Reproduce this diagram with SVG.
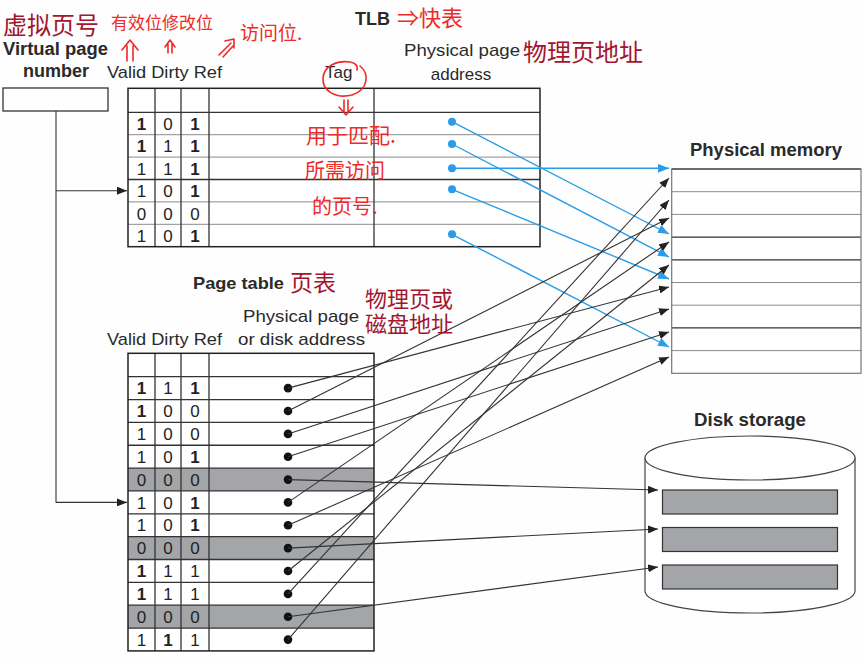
<svg xmlns="http://www.w3.org/2000/svg" width="863" height="664" viewBox="0 0 863 664">
<style>
.en{font-family:"Liberation Sans",Arial,sans-serif;fill:#2a2a2a}
.b{font-weight:bold}
.cn{font-family:"Noto Sans CJK SC","Noto Sans",sans-serif;fill:#a3152f}
.hw{font-family:"Noto Sans CJK SC","Noto Sans",sans-serif;fill:#ee2a2a}
.dg{font-family:"Liberation Sans",Arial,sans-serif;font-size:17px;fill:#222;text-anchor:middle}
.one{font-weight:bold}
.frame{fill:none;stroke:#222;stroke-width:1.5}
.ln{stroke:#333;stroke-width:1.3;fill:none}
.lt{stroke:#8a8a8a;stroke-width:1;fill:none}
.gray{fill:#a3a5a8}
.conn{stroke:#333;stroke-width:1.1;fill:none}
.blue{stroke:#2a9de8;stroke-width:1.4;fill:none}
.red{stroke:#ee2a2a;stroke-width:1.6;fill:none;stroke-linecap:round;stroke-linejoin:round}
</style>
<defs>
<marker id="ab" viewBox="0 0 10 8" refX="10" refY="4" markerWidth="10" markerHeight="8" markerUnits="userSpaceOnUse" orient="auto"><path d="M0,0 L10,4 L0,8 z" fill="#222"/></marker>
<marker id="abl" viewBox="0 0 10 8" refX="10" refY="4" markerWidth="11" markerHeight="9" markerUnits="userSpaceOnUse" orient="auto"><path d="M0,0 L10,4 L0,8 z" fill="#2a9de8"/></marker>
</defs>
<rect width="863" height="664" fill="#fdfefd"/>

<g id="vpn">
<rect x="3" y="88" width="105" height="23" fill="none" stroke="#333" stroke-width="1.3"/>
</g>

<g id="tlb">
<rect x="128" y="88.3" width="412" height="158.4" fill="#fff"/>
<path class="lt" d="M128,134.7 H540 M128,157.1 H540 M128,201.9 H540 M128,224.3 H540"/>
<path class="ln" d="M128,112.3 H540 M128,179.5 H540"/>
<path class="ln" d="M155,88.3 V246.7 M181,88.3 V246.7 M209,88.3 V246.7 M374,88.3 V246.7"/>
<rect class="frame" x="128" y="88.3" width="412" height="158.4"/>
<g>
<text class="dg one" x="141.5" y="130">1</text><text class="dg" x="168" y="130">0</text><text class="dg one" x="195" y="130">1</text>
<text class="dg one" x="141.5" y="152">1</text><text class="dg" x="168" y="152">1</text><text class="dg one" x="195" y="152">1</text>
<text class="dg" x="141.5" y="174.5">1</text><text class="dg" x="168" y="174.5">1</text><text class="dg one" x="195" y="174.5">1</text>
<text class="dg" x="141.5" y="197">1</text><text class="dg" x="168" y="197">0</text><text class="dg one" x="195" y="197">1</text>
<text class="dg" x="141.5" y="219.5" fill="#555">0</text><text class="dg" x="168" y="219.5" fill="#555">0</text><text class="dg" x="195" y="219.5" fill="#555">0</text>
<text class="dg" x="141.5" y="241.5">1</text><text class="dg" x="168" y="241.5">0</text><text class="dg one" x="195" y="241.5">1</text>
</g>
<g fill="#2a9de8">
<circle cx="452" cy="121.7" r="4"/><circle cx="452" cy="144" r="4"/><circle cx="452" cy="168.3" r="4"/><circle cx="452" cy="189.3" r="4"/><circle cx="452" cy="234.3" r="4"/>
</g>
</g>

<g id="page-table">
<rect x="128" y="353.3" width="246" height="297.6" fill="#fff"/>
<rect class="gray" x="128" y="468.1" width="246" height="22.85"/>
<rect class="gray" x="128" y="536.65" width="246" height="22.85"/>
<rect class="gray" x="128" y="605.2" width="246" height="22.85"/>
<path class="ln" d="M128,376.7 H374 M128,399.55 H374 M128,422.4 H374 M128,445.25 H374 M128,468.1 H374 M128,490.95 H374 M128,513.8 H374 M128,536.65 H374 M128,559.5 H374 M128,582.35 H374 M128,605.2 H374 M128,628.05 H374"/>
<path class="ln" d="M155,353.3 V650.9 M181,353.3 V650.9 M209,353.3 V650.9"/>
<rect class="frame" x="128" y="353.3" width="246" height="297.6"/>
<g>
<text class="dg one" x="141.5" y="394">1</text><text class="dg" x="168" y="394">1</text><text class="dg one" x="195" y="394">1</text>
<text class="dg one" x="141.5" y="417">1</text><text class="dg" x="168" y="417">0</text><text class="dg" x="195" y="417">0</text>
<text class="dg" x="141.5" y="440">1</text><text class="dg" x="168" y="440">0</text><text class="dg" x="195" y="440">0</text>
<text class="dg" x="141.5" y="462.5">1</text><text class="dg" x="168" y="462.5">0</text><text class="dg one" x="195" y="462.5">1</text>
<text class="dg" x="141.5" y="485.5" fill="#444">0</text><text class="dg" x="168" y="485.5" fill="#444">0</text><text class="dg" x="195" y="485.5" fill="#444">0</text>
<text class="dg" x="141.5" y="508.5">1</text><text class="dg" x="168" y="508.5">0</text><text class="dg one" x="195" y="508.5">1</text>
<text class="dg" x="141.5" y="531">1</text><text class="dg" x="168" y="531">0</text><text class="dg one" x="195" y="531">1</text>
<text class="dg" x="141.5" y="554" fill="#444">0</text><text class="dg" x="168" y="554" fill="#444">0</text><text class="dg" x="195" y="554" fill="#444">0</text>
<text class="dg one" x="141.5" y="577">1</text><text class="dg" x="168" y="577">1</text><text class="dg" x="195" y="577">1</text>
<text class="dg one" x="141.5" y="599.5">1</text><text class="dg" x="168" y="599.5">1</text><text class="dg" x="195" y="599.5">1</text>
<text class="dg" x="141.5" y="622.5" fill="#444">0</text><text class="dg" x="168" y="622.5" fill="#444">0</text><text class="dg" x="195" y="622.5" fill="#444">0</text>
<text class="dg" x="141.5" y="645.5">1</text><text class="dg one" x="168" y="645.5">1</text><text class="dg" x="195" y="645.5">1</text>
</g>
<g fill="#111">
<circle cx="288" cy="388.1" r="4.3"/><circle cx="288" cy="411" r="4.3"/><circle cx="288" cy="433.9" r="4.3"/><circle cx="288" cy="456.7" r="4.3"/><circle cx="288" cy="479.6" r="4.3"/><circle cx="288" cy="502.4" r="4.3"/><circle cx="288" cy="525.3" r="4.3"/><circle cx="288" cy="548.1" r="4.3"/><circle cx="288" cy="571" r="4.3"/><circle cx="288" cy="593.9" r="4.3"/><circle cx="288" cy="616.7" r="4.3"/><circle cx="288" cy="639.6" r="4.3"/>
</g>
</g>

<g id="physical-memory">
<rect x="671.7" y="169" width="189.3" height="204.3" fill="#fff"/>
<path class="lt" d="M671.7,191.7 H861 M671.7,214.4 H861 M671.7,282.5 H861 M671.7,305.2 H861 M671.7,350.6 H861"/>
<path class="ln" d="M671.7,237.1 H861 M671.7,259.8 H861 M671.7,327.9 H861"/>
<path d="M671.7,169 H861" stroke="#222" stroke-width="1.5"/>
<rect x="671.7" y="169" width="189.3" height="204.3" fill="none" stroke="#777" stroke-width="1.2"/>
</g>

<g id="disk-storage">
<path d="M645,458 V591 A105,22 0 0 0 855,591 V458" fill="#fff" stroke="#444" stroke-width="1.2"/>
<ellipse cx="750" cy="458" rx="105" ry="22" fill="#fff" stroke="#444" stroke-width="1.2"/>
<rect class="gray" x="662.5" y="490" width="175" height="24" stroke="#333" stroke-width="1.2"/>
<rect class="gray" x="662.5" y="527.5" width="175" height="24" stroke="#333" stroke-width="1.2"/>
<rect class="gray" x="662.5" y="565" width="175" height="24" stroke="#333" stroke-width="1.2"/>
</g>

<g id="connectors">
<path class="conn" d="M56,111 V502.4"/>
<path class="conn" d="M56,190.7 H127" marker-end="url(#ab)"/>
<path class="conn" d="M56,502.4 H127" marker-end="url(#ab)"/>
<path class="blue" d="M452,168.3 H669" marker-end="url(#abl)"/>
<path class="blue" d="M452,121.7 L669,234" marker-end="url(#abl)"/>
<path class="blue" d="M452,144 L669,257" marker-end="url(#abl)"/>
<path class="blue" d="M452,189.3 L669,279" marker-end="url(#abl)"/>
<path class="blue" d="M452,234.3 L669,347" marker-end="url(#abl)"/>
<path class="conn" d="M288,388.1 L669,287" marker-end="url(#ab)"/>
<path class="conn" d="M288,411 L669,218" marker-end="url(#ab)"/>
<path class="conn" d="M288,433.9 L669,309" marker-end="url(#ab)"/>
<path class="conn" d="M288,456.7 L669,332" marker-end="url(#ab)"/>
<path class="conn" d="M288,502.4 L669,242" marker-end="url(#ab)"/>
<path class="conn" d="M288,525.3 L669,357" marker-end="url(#ab)"/>
<path class="conn" d="M288,571 L669,265" marker-end="url(#ab)"/>
<path class="conn" d="M288,593.9 L669,178" marker-end="url(#ab)"/>
<path class="conn" d="M288,639.6 L669,200" marker-end="url(#ab)"/>
<path class="conn" d="M288,479.6 L658,490" marker-end="url(#ab)"/>
<path class="conn" d="M288,548.1 L658,529" marker-end="url(#ab)"/>
<path class="conn" d="M288,616.7 L658,567" marker-end="url(#ab)"/>
</g>

<g id="labels">
<text class="cn" x="3" y="34" font-size="24">虚拟页号</text>
<text class="en b" x="3" y="55" font-size="18" textLength="105" lengthAdjust="spacingAndGlyphs">Virtual page</text>
<text class="en b" x="56" y="77" font-size="18" text-anchor="middle">number</text>
<text class="hw" x="111" y="29" font-size="17">有效位修改位</text>
<text class="hw" x="240" y="40" font-size="19">访问位.</text>
<text class="en b" x="355" y="25" font-size="18">TLB</text>
<text class="hw" x="397" y="26" font-size="22">⇒快表</text>
<text class="en" x="404" y="56" font-size="17" textLength="116" lengthAdjust="spacingAndGlyphs">Physical page</text>
<text class="en" x="461" y="80" font-size="17" text-anchor="middle">address</text>
<text class="cn" x="523" y="61" font-size="24">物理页地址</text>
<text class="en" x="325" y="78" font-size="17">Tag</text>
<text class="en" x="107" y="78" font-size="17" textLength="115" lengthAdjust="spacingAndGlyphs">Valid Dirty Ref</text>
<text class="hw" x="306" y="143" font-size="21">用于匹配.</text>
<text class="hw" x="305" y="178" font-size="20">所需访问</text>
<text class="hw" x="312" y="214" font-size="20">的页号.</text>
<text class="en b" x="193" y="289" font-size="17" textLength="91" lengthAdjust="spacingAndGlyphs">Page table</text>
<text class="cn" x="290" y="291" font-size="23">页表</text>
<text class="cn" font-size="22"><tspan x="365" y="307">物理页或</tspan><tspan x="365" y="332">磁盘地址</tspan></text>
<text class="en" x="243" y="322" font-size="17" textLength="116" lengthAdjust="spacingAndGlyphs">Physical page</text>
<text class="en" x="238" y="345" font-size="17" textLength="127" lengthAdjust="spacingAndGlyphs">or disk address</text>
<text class="en" x="107" y="345" font-size="17" textLength="115" lengthAdjust="spacingAndGlyphs">Valid Dirty Ref</text>
<text class="en b" x="690" y="156" font-size="18" textLength="152" lengthAdjust="spacingAndGlyphs">Physical memory</text>
<text class="en b" x="694" y="426" font-size="18" textLength="112" lengthAdjust="spacingAndGlyphs">Disk storage</text>
</g>

<g id="annotations">
<path class="red" d="M127,61 L127,46 M133,61 L133,46 M122,50 L130,40 L138,50"/>
<path class="red" d="M168,53 L168,44 M172,53 L172,44 M165,47 L170,40 L175,47"/>
<path class="red" d="M219,55 L231,43 M223,57 L234,45 M225,41 L234,39 L234,48"/>
<path class="red" d="M360,66 C370,74 368,90 352,95 C336,99 322,91 323,78 C324,66 337,60 350,62 C356,63 358,66 357,70"/>
<path class="red" d="M344,100 L344,112 M348,100 L348,112 M339,107 L346,115 L353,107"/>
</g>
</svg>
